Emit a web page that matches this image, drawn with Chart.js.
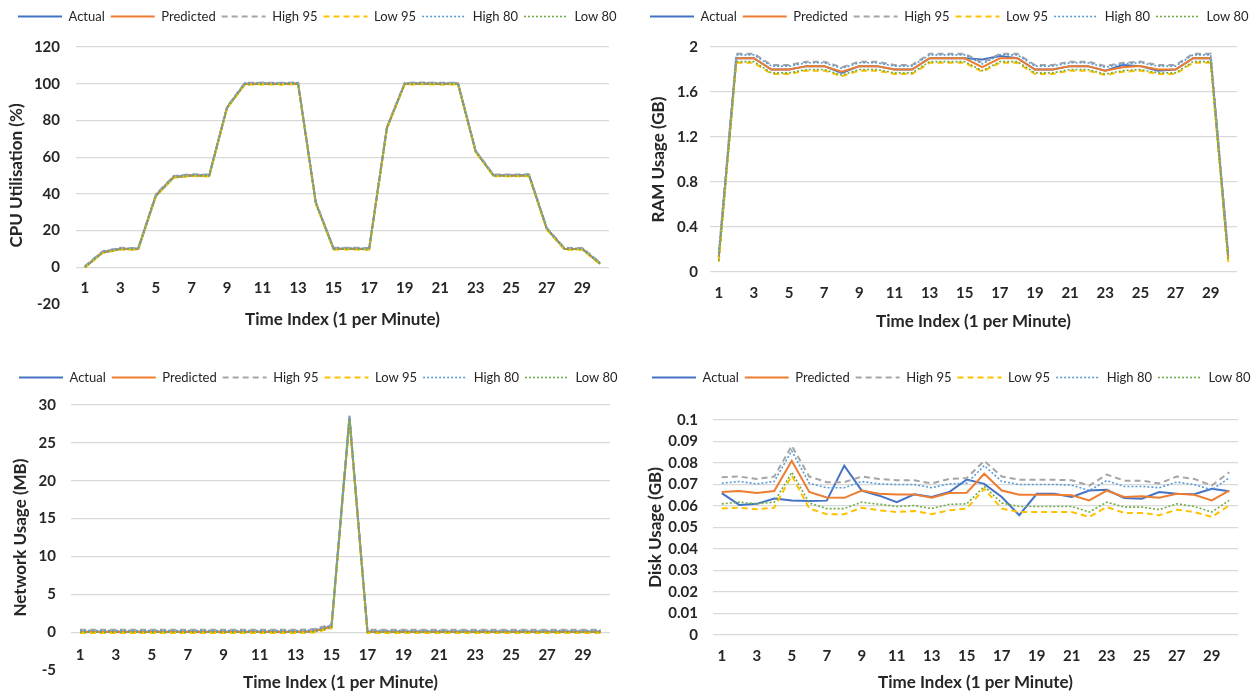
<!DOCTYPE html>
<html lang="en">
<head>
  <meta charset="UTF-8" />
  <title>Resource usage forecasts</title>
  <script src="https://cdn.jsdelivr.net/npm/chart.js"></script>
  <style>
    body {
      margin: 0;
      background: #fff;
    }

    .panel {
      position: absolute;
    }

    #cpuBox  { left: 0;     top: 0;     width: 628px; height: 340px; }
    #ramBox  { left: 630px; top: 0;     width: 627px; height: 340px; }
    #netBox  { left: 0;     top: 360px; width: 628px; height: 336px; }
    #diskBox { left: 630px; top: 360px; width: 627px; height: 336px; }
  </style>
</head>
<body>
  <div class="panel" id="cpuBox"><canvas id="cpuChart"></canvas></div>
  <div class="panel" id="ramBox"><canvas id="ramChart"></canvas></div>
  <div class="panel" id="netBox"><canvas id="netChart"></canvas></div>
  <div class="panel" id="diskBox"><canvas id="diskChart"></canvas></div>

  <script>
    const timeIndex = ['1','2','3','4','5','6','7','8','9','10','11','12','13','14','15',
                       '16','17','18','19','20','21','22','23','24','25','26','27','28','29','30'];

    // CPU utilisation (%)
    const cpuTicks = [-20, 0, 20, 40, 60, 80, 100, 120];
    const cpuActual    = [0, 8, 10, 10, 39, 49, 50, 50, 87, 100, 100, 100, 100, 35, 10, 10, 10, 76, 100, 100, 100, 100, 63, 50, 50, 50, 21, 10, 10, 2];
    const cpuPredicted = [0.2, 8.3, 10.1, 10, 39.3, 49.3, 50.2, 50, 87, 99.9, 100.1, 100, 100.2, 35, 10.1, 10.2, 10, 76, 100, 100.2, 100, 100.1, 63, 50.1, 50, 50.2, 21, 10.1, 10, 2.1];
    const cpuHigh95    = [0.7, 8.8, 10.6, 10.5, 39.8, 49.8, 50.7, 50.5, 87.5, 100.5, 100.6, 100.5, 100.7, 35.5, 10.6, 10.7, 10.5, 76.5, 100.5, 100.7, 100.5, 100.6, 63.5, 50.6, 50.5, 50.7, 21.5, 10.6, 10.5, 2.6];
    const cpuLow95     = [-0.3, 7.8, 9.6, 9.5, 38.8, 48.8, 49.7, 49.5, 86.5, 99.4, 99.6, 99.5, 99.7, 34.5, 9.6, 9.7, 9.5, 75.5, 99.5, 99.7, 99.5, 99.6, 62.5, 49.6, 49.5, 49.7, 20.5, 9.6, 9.5, 1.6];
    const cpuHigh80    = [0.5, 8.6, 10.4, 10.3, 39.6, 49.6, 50.5, 50.3, 87.3, 100.3, 100.4, 100.3, 100.5, 35.3, 10.4, 10.5, 10.3, 76.3, 100.3, 100.5, 100.3, 100.4, 63.3, 50.4, 50.3, 50.5, 21.3, 10.4, 10.3, 2.4];
    const cpuLow80     = [-0.1, 8, 9.8, 9.7, 39, 49, 49.9, 49.7, 86.7, 99.6, 99.8, 99.7, 99.9, 34.7, 9.8, 9.9, 9.7, 75.7, 99.7, 99.9, 99.7, 99.8, 62.7, 49.8, 49.7, 49.9, 20.7, 9.8, 9.7, 1.8];

    // RAM usage (GB)
    const ramTicks = [0, 0.4, 0.8, 1.2, 1.6, 2];
    const ramActual    = [0.13, 1.9, 1.9, 1.8, 1.8, 1.83, 1.83, 1.77, 1.83, 1.83, 1.8, 1.8, 1.9, 1.9, 1.9, 1.89, 1.92, 1.9, 1.8, 1.8, 1.83, 1.83, 1.79, 1.84, 1.83, 1.79, 1.8, 1.9, 1.9, 0.13];
    const ramPredicted = [0.13, 1.9, 1.9, 1.8, 1.8, 1.83, 1.83, 1.78, 1.83, 1.83, 1.8, 1.8, 1.9, 1.9, 1.9, 1.82, 1.9, 1.9, 1.8, 1.8, 1.83, 1.83, 1.79, 1.82, 1.83, 1.8, 1.8, 1.9, 1.9, 0.13];
    const ramHigh95    = [0.17, 1.94, 1.94, 1.84, 1.84, 1.87, 1.87, 1.82, 1.87, 1.87, 1.84, 1.84, 1.94, 1.94, 1.94, 1.86, 1.94, 1.94, 1.84, 1.84, 1.87, 1.87, 1.83, 1.86, 1.87, 1.84, 1.84, 1.94, 1.94, 0.17];
    const ramLow95     = [0.09, 1.86, 1.86, 1.76, 1.76, 1.79, 1.79, 1.74, 1.79, 1.79, 1.76, 1.76, 1.86, 1.86, 1.86, 1.78, 1.86, 1.86, 1.76, 1.76, 1.79, 1.79, 1.75, 1.78, 1.79, 1.76, 1.76, 1.86, 1.86, 0.09];
    const ramHigh80    = [0.16, 1.93, 1.93, 1.83, 1.83, 1.86, 1.86, 1.81, 1.86, 1.86, 1.83, 1.83, 1.93, 1.93, 1.93, 1.85, 1.93, 1.93, 1.83, 1.83, 1.86, 1.86, 1.82, 1.85, 1.86, 1.83, 1.83, 1.93, 1.93, 0.16];
    const ramLow80     = [0.1, 1.87, 1.87, 1.77, 1.77, 1.8, 1.8, 1.75, 1.8, 1.8, 1.77, 1.77, 1.87, 1.87, 1.87, 1.79, 1.87, 1.87, 1.77, 1.77, 1.8, 1.8, 1.76, 1.79, 1.8, 1.77, 1.77, 1.87, 1.87, 0.1];

    // Network usage (MB)
    const netTicks = [-5, 0, 5, 10, 15, 20, 25, 30];
    const netActual    = [0.05, 0.05, 0.05, 0.05, 0.05, 0.05, 0.05, 0.05, 0.05, 0.05, 0.05, 0.05, 0.05, 0.1, 0.8, 28.3, 0.05, 0.05, 0.05, 0.05, 0.05, 0.05, 0.05, 0.05, 0.05, 0.05, 0.05, 0.05, 0.05, 0.05];
    const netPredicted = [0.05, 0.05, 0.05, 0.05, 0.05, 0.05, 0.05, 0.05, 0.05, 0.05, 0.05, 0.05, 0.05, 0.15, 0.7, 28.2, 0.05, 0.05, 0.05, 0.05, 0.05, 0.05, 0.05, 0.05, 0.05, 0.05, 0.05, 0.05, 0.05, 0.05];
    const netHigh95    = [0.3, 0.3, 0.3, 0.3, 0.3, 0.3, 0.3, 0.3, 0.3, 0.3, 0.3, 0.3, 0.3, 0.4, 1.0, 28.6, 0.3, 0.3, 0.3, 0.3, 0.3, 0.3, 0.3, 0.3, 0.3, 0.3, 0.3, 0.3, 0.3, 0.3];
    const netLow95     = [-0.1, -0.1, -0.1, -0.1, -0.1, -0.1, -0.1, -0.1, -0.1, -0.1, -0.1, -0.1, -0.1, -0.05, 0.5, 27.9, -0.1, -0.1, -0.1, -0.1, -0.1, -0.1, -0.1, -0.1, -0.1, -0.1, -0.1, -0.1, -0.1, -0.1];
    const netHigh80    = [0.2, 0.2, 0.2, 0.2, 0.2, 0.2, 0.2, 0.2, 0.2, 0.2, 0.2, 0.2, 0.2, 0.3, 0.9, 28.5, 0.2, 0.2, 0.2, 0.2, 0.2, 0.2, 0.2, 0.2, 0.2, 0.2, 0.2, 0.2, 0.2, 0.2];
    const netLow80     = [0, 0, 0, 0, 0, 0, 0, 0, 0, 0, 0, 0, 0, 0.05, 0.6, 28.0, 0, 0, 0, 0, 0, 0, 0, 0, 0, 0, 0, 0, 0, 0];

    // Disk usage (GB)
    const diskTicks = [0, 0.01, 0.02, 0.03, 0.04, 0.05, 0.06, 0.07, 0.08, 0.09, 0.1];
    const diskActual    = [0.066, 0.0605, 0.061, 0.0635, 0.0626, 0.0623, 0.0625, 0.0788, 0.0672, 0.0648, 0.0618, 0.0654, 0.0642, 0.0665, 0.0723, 0.0703, 0.0642, 0.0557, 0.0657, 0.0657, 0.0642, 0.0672, 0.0675, 0.0637, 0.0634, 0.0665, 0.0657, 0.0655, 0.068, 0.0669];
    const diskPredicted = [0.0665, 0.067, 0.066, 0.067, 0.081, 0.0665, 0.064, 0.0638, 0.0672, 0.0657, 0.0654, 0.0654, 0.0638, 0.066, 0.0662, 0.075, 0.0672, 0.0652, 0.0652, 0.0652, 0.065, 0.0626, 0.0672, 0.0642, 0.0645, 0.0638, 0.0657, 0.0652, 0.0626, 0.0672];
    const diskHigh95    = [0.0734, 0.0737, 0.0726, 0.0737, 0.088, 0.0737, 0.0711, 0.0711, 0.0737, 0.0726, 0.072, 0.072, 0.0705, 0.0726, 0.073, 0.081, 0.0737, 0.0722, 0.0722, 0.0722, 0.072, 0.0695, 0.0746, 0.0718, 0.0718, 0.0705, 0.0737, 0.0726, 0.0695, 0.0757];
    const diskLow95     = [0.0588, 0.0592, 0.0585, 0.0592, 0.0742, 0.0588, 0.0562, 0.0562, 0.0592, 0.058, 0.0572, 0.0577, 0.0562, 0.058, 0.0588, 0.068, 0.0588, 0.0572, 0.0572, 0.0572, 0.0572, 0.0549, 0.0595, 0.0568, 0.0568, 0.0557, 0.0583, 0.0572, 0.0549, 0.0603];
    const diskHigh80    = [0.0706, 0.0714, 0.0703, 0.0714, 0.0857, 0.0706, 0.0685, 0.0685, 0.0714, 0.0703, 0.07, 0.07, 0.0685, 0.0703, 0.0706, 0.0788, 0.0714, 0.07, 0.07, 0.07, 0.0697, 0.0672, 0.0718, 0.0691, 0.0691, 0.0685, 0.0711, 0.07, 0.0675, 0.0731];
    const diskLow80     = [0.061, 0.0618, 0.061, 0.0618, 0.0757, 0.0614, 0.0588, 0.0588, 0.0618, 0.0608, 0.0598, 0.0602, 0.0588, 0.0608, 0.061, 0.0691, 0.0614, 0.0598, 0.0598, 0.0598, 0.0598, 0.0572, 0.0618, 0.0595, 0.0595, 0.0583, 0.061, 0.0598, 0.0572, 0.0626];

    // series styling, same for the four charts
    const seriesNames  = ['Actual', 'Predicted', 'High 95', 'Low 95', 'High 80', 'Low 80'];
    const seriesColors = ['#4472C4', '#ED7D31', '#A5A5A5', '#FFC000', '#5B9BD5', '#70AD47'];
    const seriesDash   = [[], [], [6, 4], [6, 4], [2, 2], [2, 2]];
    const seriesWidth  = [2, 2, 2, 2, 1.6, 1.6];

    const textColor = '#262626';
    const legendFont = { family: 'Lato', size: 13 };
    const tickFont = { family: 'Lato', size: 15, weight: 'bold' };
    const titleFont = { family: 'Lato', size: 17, weight: 'bold' };

    function makeChart(id, series, yTicks, yTitle, box) {
      const datasets = series.map((data, i) => ({
        label: seriesNames[i],
        data: data,
        borderColor: seriesColors[i],
        backgroundColor: seriesColors[i],
        borderWidth: seriesWidth[i],
        borderDash: seriesDash[i],
        pointRadius: 0,
        pointHoverRadius: 0,
        tension: 0,
        fill: false,
        order: series.length - i   // later series drawn on top
      }));

      // legend: fixed band height, one row starting at box.legendX
      const legendBand = {
        id: 'legendBand',
        beforeInit(chart) {
          const fit = chart.legend.fit;
          chart.legend.fit = function () {
            this.maxWidth = chart.width + 100;
            fit.call(this);
            this.height = box.plotTop - box.padTop;
          };
        },
        afterLayout(chart) {
          chart.legend.left = box.legendX - 6;
          chart.legend.right = chart.width + 100;
        }
      };

      return new Chart(document.getElementById(id), {
        type: 'line',
        data: { labels: timeIndex, datasets: datasets },
        plugins: [legendBand],
        options: {
          responsive: true,
          maintainAspectRatio: false,
          animation: false,
          layout: {
            padding: { top: box.padTop, right: box.padRight, bottom: box.padBottom, left: 0 }
          },
          plugins: {
            tooltip: { enabled: false },
            legend: {
              position: 'top',
              align: 'start',
              labels: {
                usePointStyle: true,
                pointStyleWidth: 44,
                padding: 6,
                color: textColor,
                font: legendFont,
                generateLabels: chart => chart.data.datasets.map((ds, i) => ({
                  text: ds.label,
                  datasetIndex: i,
                  pointStyle: 'line',
                  strokeStyle: ds.borderColor,
                  fillStyle: ds.borderColor,
                  lineWidth: ds.borderWidth,
                  lineDash: ds.borderDash,
                  lineCap: 'butt',
                  hidden: false,
                  fontColor: textColor
                }))
              }
            }
          },
          scales: {
            x: {
              type: 'category',
              axis: 'x',
              position: yTicks[0] < 0 ? { y: 0 } : 'bottom',
              offset: true,
              afterFit: s => { s.height = box.xHeight; },
              grid: { display: false, drawTicks: false },
              border: { display: false },
              ticks: {
                autoSkip: false,
                maxRotation: 0,
                padding: box.xPad,
                color: textColor,
                font: tickFont,
                callback: (v, i) => (i % 2 === 0 ? timeIndex[i] : '')
              },
              title: {
                display: true,
                text: 'Time Index (1 per Minute)',
                color: textColor,
                font: titleFont,
                padding: 0
              }
            },
            y: {
              min: yTicks[0],
              max: yTicks[yTicks.length - 1],
              afterBuildTicks: s => { s.ticks = yTicks.map(v => ({ value: v })); },
              afterFit: s => { s.width = box.plotLeft; },
              grid: {
                drawTicks: false,
                lineWidth: 1.2,
                color: c => (c.tick && c.tick.value < 0 ? 'rgba(0,0,0,0)' : '#d9d9d9')
              },
              border: { display: false },
              ticks: {
                autoSkip: false,
                padding: box.yPad,
                color: textColor,
                font: tickFont,
                callback: v => String(v)
              },
              title: {
                display: true,
                text: yTitle,
                color: textColor,
                font: titleFont,
                padding: { top: box.yTitlePad, bottom: 0 }
              }
            }
          }
        }
      });
    }

    makeChart('cpuChart',
      [cpuActual, cpuPredicted, cpuHigh95, cpuLow95, cpuHigh80, cpuLow80],
      cpuTicks, 'CPU Utilisation (%)',
      { legendX: 18, plotTop: 47, padTop: 4, padRight: 19, padBottom: 36, plotLeft: 76, yPad: 16, yTitlePad: 6, xPad: 12, xHeight: 62 });

    makeChart('ramChart',
      [ramActual, ramPredicted, ramHigh95, ramLow95, ramHigh80, ramLow80],
      ramTicks, 'RAM Usage (GB)',
      { legendX: 20, plotTop: 47, padTop: 4, padRight: 20, padBottom: 8, plotLeft: 80, yPad: 12, yTitlePad: 18, xPad: 12, xHeight: 60 });

    makeChart('netChart',
      [netActual, netPredicted, netHigh95, netLow95, netHigh80, netLow80],
      netTicks, 'Network Usage (MB)',
      { legendX: 19, plotTop: 45, padTop: 5, padRight: 18, padBottom: 26, plotLeft: 71, yPad: 15, yTitlePad: 10, xPad: 14, xHeight: 61 });

    makeChart('diskChart',
      [diskActual, diskPredicted, diskHigh95, diskLow95, diskHigh80, diskLow80],
      diskTicks, 'Disk Usage (GB)',
      { legendX: 22, plotTop: 60, padTop: 5, padRight: 19, padBottom: 3, plotLeft: 83, yPad: 15, yTitlePad: 15, xPad: 12, xHeight: 58 });
  </script>
</body>
</html>
